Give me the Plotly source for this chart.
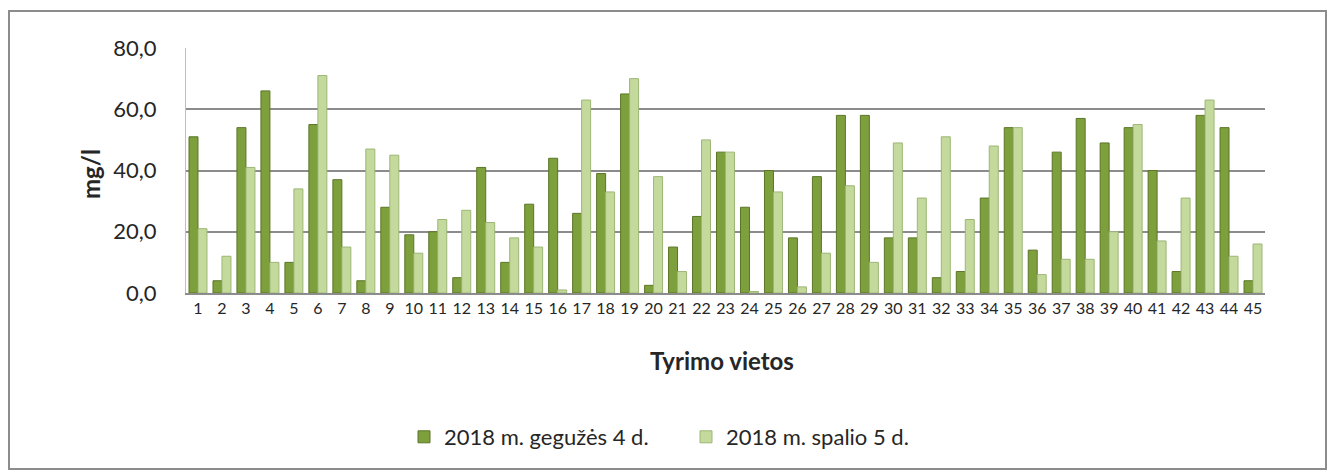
import plotly.graph_objects as go

sites = [str(i) for i in range(1, 46)]
may_2018 = [51, 4, 54, 66, 10, 55, 37, 4, 28, 19, 20, 5, 41, 10, 29, 44, 26, 39, 65, 2.5,
            15, 25, 46, 28, 40, 18, 38, 58, 58, 18, 18, 5, 7, 31, 54, 14, 46, 57, 49, 54,
            40, 7, 58, 54, 4]
oct_2018 = [21, 12, 41, 10, 34, 71, 15, 47, 45, 13, 24, 27, 23, 18, 15, 1, 63, 33, 70, 38,
            7, 50, 46, 0.5, 33, 2, 13, 35, 10, 49, 31, 51, 24, 48, 54, 6, 11, 11, 20, 55,
            17, 31, 63, 12, 16]
y_ticks = [0, 20, 40, 60, 80]

FONT = "Lato"
OFF = 8  # default page margin of the browser
W, H = 1335 - OFF, 476 - OFF
# plot area in screen pixels
SL, SR, ST, SB = 186, 1265, 48, 293
L, T = SL - OFF, ST - OFF
R, B = W - (SR - OFF), H - (SB - OFF)
pw, ph = W - L - R, H - T - B


def px_x(x):
    return (x - SL) / pw


def px_y(y):
    return (SB - y) / ph


fig = go.Figure()
fig.add_trace(go.Bar(
    x=sites, y=may_2018, name="2018 m. gegužės 4 d.",
    marker=dict(color="#7DA03D", line=dict(color="#5B7527", width=1)),
))
fig.add_trace(go.Bar(
    x=sites, y=oct_2018, name="2018 m. spalio 5 d.",
    marker=dict(color="#C3DA9C", line=dict(color="#9DB676", width=1)),
))

fig.update_layout(
    width=W, height=H,
    paper_bgcolor="white", plot_bgcolor="white",
    separators=",.",
    barmode="group", bargap=0.25, bargroupgap=0.0,
    margin=dict(l=L, r=R, t=T, b=B, autoexpand=False),
    font=dict(family=FONT, color="#262626"),
    showlegend=True,
    legend=dict(orientation="h", x=px_x(404), xanchor="left", y=px_y(437), yanchor="middle",
                font=dict(size=22, family=FONT), traceorder="normal",
                entrywidth=237, entrywidthmode="pixels"),
    shapes=[dict(type="rect", xref="paper", yref="paper",
                 x0=px_x(9), x1=px_x(1326), y0=px_y(469), y1=px_y(11),
                 line=dict(color="#8C8C8C", width=2), fillcolor="rgba(0,0,0,0)", layer="below")],
    annotations=[
        dict(text="<b>Tyrimo vietos</b>", xref="paper", yref="paper",
             x=px_x(722), y=px_y(360), showarrow=False, font=dict(size=24, family=FONT),
             xanchor="center", yanchor="middle"),
        dict(text="<b>mg/l</b>", xref="paper", yref="paper", textangle=-90,
             x=px_x(90), y=px_y(174), showarrow=False, font=dict(size=24, family=FONT),
             xanchor="center", yanchor="middle"),
    ],
)
fig.update_xaxes(
    type="category", showgrid=False, showline=True, linecolor="#8C8C8C", linewidth=2,
    ticks="", tickfont=dict(size=16, family=FONT), automargin=False,
)
fig.update_yaxes(
    range=[0, 80], tickvals=y_ticks, tickformat=".1f", automargin=False,
    showgrid=True, gridcolor="#8C8C8C", gridwidth=2, zeroline=False,
    showline=True, linecolor="#BFBFBF", linewidth=1,
    tickfont=dict(size=22, family=FONT), ticks="", ticklen=0, ticklabelstandoff=24,
)

fig.write_html("out.html")
